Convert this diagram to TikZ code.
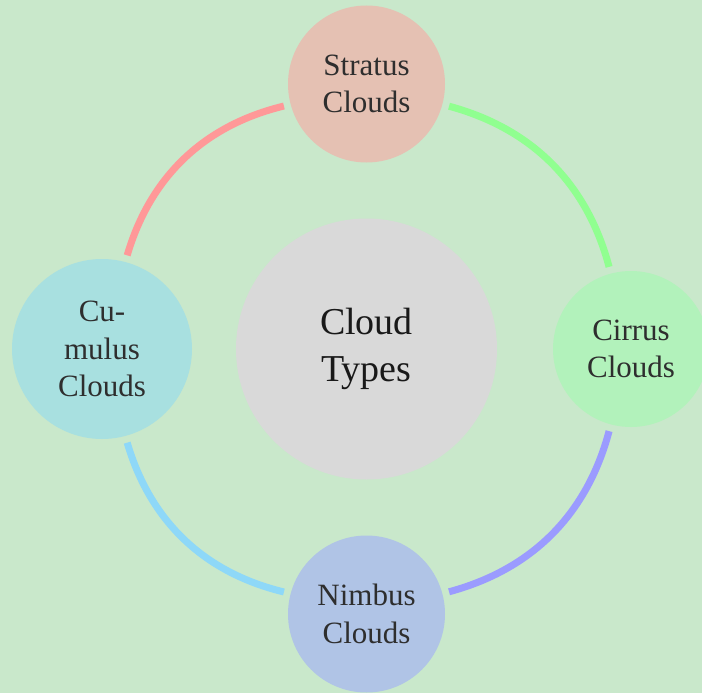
\documentclass[tikz,border=0pt]{standalone}
\usepackage{fontspec}
\setmainfont{Liberation Serif}
\definecolor{bgc}{HTML}{C9E8CB}
\definecolor{stratusc}{HTML}{E5C1B3}
\definecolor{cumulusc}{HTML}{A8E0E0}
\definecolor{cirrusc}{HTML}{B2F2BB}
\definecolor{nimbusc}{HTML}{B0C4E6}
\definecolor{centerc}{HTML}{D9D9D9}
\definecolor{redl}{HTML}{FF9898}
\definecolor{greenl}{HTML}{90FF90}
\definecolor{bluel}{HTML}{9B9BFF}
\definecolor{skyl}{HTML}{8ED8F8}
\definecolor{txt}{HTML}{2E2E2E}
\tikzset{
  cloudnode/.style={circle, inner sep=0pt, outer sep=0pt, align=center, text=txt,
    font=\fontsize{31}{37.5}\selectfont},
  hubnode/.style={circle, inner sep=0pt, outer sep=0pt, align=center, text=black!90,
    fill=centerc, minimum size=261pt, font=\fontsize{38}{47}\selectfont},
  link/.style={line width=7pt, line cap=butt, shorten <=7pt, shorten >=7pt, bend left=30}
}
\begin{document}
\begin{tikzpicture}[x=1pt,y=1pt]
\useasboundingbox (0,0) rectangle (702,-693);
\fill[bgc] (0,0) rectangle (702,-693);
\clip (0,0) rectangle (702,-693);
\node[hubnode] (hub) at (366.5,-349) {Cloud\\Types};
\node[cloudnode, fill=stratusc, minimum size=157pt] (stratus) at (366.5,-84) {Stratus\\Clouds};
\node[cloudnode, fill=cirrusc, minimum size=156pt] (cirrus) at (631,-349) {Cirrus\\Clouds};
\node[cloudnode, fill=nimbusc, minimum size=157pt] (nimbus) at (366.5,-614) {Nimbus\\Clouds};
\node[cloudnode, fill=cumulusc, minimum size=180pt] (cumulus) at (102,-349) {Cu-\\mulus\\Clouds};
\draw[link, redl] (cumulus) to (stratus);
\draw[link, greenl] (stratus) to (cirrus);
\draw[link, bluel] (cirrus) to (nimbus);
\draw[link, skyl] (nimbus) to (cumulus);
\end{tikzpicture}
\end{document}
